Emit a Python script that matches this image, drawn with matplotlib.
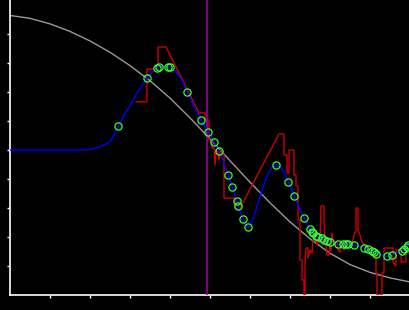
import matplotlib
matplotlib.use("Agg")
import matplotlib.pyplot as plt

# ── Data ─────────────────────────────────────────────────────────────
# smooth grey reference curve
prior_x = [-0.25, 0.0, 0.5, 1.0, 1.5, 2.0, 2.5, 3.0, 3.5, 4.0, 4.5, 5.0, 5.5,
           6.0, 6.5, 7.0, 7.5, 8.0, 8.5, 9.0, 9.5, 10.0]
prior_y = [9.67, 9.64, 9.54, 9.35, 9.09, 8.76, 8.37, 7.91, 7.39, 6.79, 6.11,
           5.38, 4.63, 3.89, 3.18, 2.52, 1.94, 1.44, 1.05, 0.78, 0.59, 0.45]

# blue fitted curve
fit_x = [0.0, 1.75, 2.0, 2.25, 2.375, 2.5, 2.6, 2.71, 2.85, 3.0, 3.2, 3.42,
         3.55, 3.67, 3.83, 4.0, 4.1, 4.2, 4.3, 4.43, 4.6, 4.78, 4.96, 5.1,
         5.23, 5.35, 5.46, 5.56, 5.68, 5.71, 5.76, 5.83, 5.89, 5.94, 6.0,
         6.08, 6.17, 6.29, 6.42, 6.54, 6.66, 6.75, 6.85, 6.96, 7.11, 7.23,
         7.36, 7.5, 7.54, 7.58, 7.64, 7.71, 7.79, 7.86, 7.93, 8.01, 8.21, 8.33,
         8.39, 8.44, 8.6, 8.86, 8.95, 9.04, 9.09, 9.15, 9.43, 9.56, 9.81, 9.85,
         9.92, 9.96, 10.0]
fit_y = [5.0, 5.0, 5.02, 5.11, 5.19, 5.29, 5.52, 5.82, 6.21, 6.52, 7.03, 7.47,
         7.69, 7.82, 7.89, 7.86, 7.78, 7.62, 7.40, 7.0, 6.52, 6.02, 5.63, 5.27,
         4.96, 4.55, 4.13, 3.71, 3.19, 3.07, 2.84, 2.61, 2.47, 2.35, 2.36,
         2.62, 3.03, 3.56, 4.08, 4.39, 4.47, 4.43, 4.24, 3.89, 3.40, 3.0,
         2.64, 2.27, 2.18, 2.13, 2.04, 1.99, 1.95, 1.88, 1.87, 1.82, 1.75, 1.75,
         1.75, 1.75, 1.71, 1.63, 1.59, 1.53, 1.47, 1.43, 1.33, 1.38, 1.53, 1.59,
         1.67, 1.72, 1.78]

# green observation markers
obs_x = [2.71, 3.42, 3.67, 3.73, 3.96, 4.01, 4.43, 4.78, 4.96, 5.1, 5.23, 5.46,
         5.56, 5.68, 5.71, 5.83, 5.94, 6.66, 6.96, 7.11, 7.36, 7.5, 7.54, 7.58,
         7.64, 7.71, 7.79, 7.86, 7.93, 8.01, 8.21, 8.33, 8.39, 8.44, 8.6, 8.86,
         8.95, 9.04, 9.09, 9.15, 9.43, 9.56, 9.81, 9.85, 9.92, 9.96]
obs_y = [5.82, 7.47, 7.82, 7.86, 7.87, 7.86, 7.0, 6.02, 5.63, 5.27, 4.96, 4.13,
         3.71, 3.24, 3.07, 2.61, 2.36, 4.47, 3.89, 3.40, 2.64, 2.27, 2.18, 2.13,
         2.04, 1.99, 1.95, 1.88, 1.87, 1.82, 1.75, 1.75, 1.75, 1.75, 1.71, 1.63,
         1.59, 1.53, 1.47, 1.43, 1.33, 1.38, 1.53, 1.59, 1.67, 1.72]

# red raw trace
raw_x = [3.15, 3.425, 3.425, 3.7, 3.7, 3.9, 4.725, 4.875, 4.875, 4.975, 4.975,
         5.05, 5.05, 5.1, 5.125, 5.15, 5.2, 5.225, 5.25, 5.275, 5.3, 5.35, 5.35,
         5.625, 5.625, 5.725, 6.725, 6.85, 6.85, 6.925, 6.925, 6.975, 6.975,
         7.1, 7.1, 7.15, 7.15, 7.2, 7.2, 7.25, 7.25, 7.3, 7.3, 7.35, 7.35,
         7.375, 7.375, 7.4, 7.45, 7.45, 7.5, 7.55, 7.575, 7.65, 7.675, 7.725,
         7.75, 7.775, 7.85, 7.85, 7.875, 7.9, 7.925, 7.975, 8.0, 8.025, 8.05,
         8.075, 8.125, 8.175, 8.2, 8.25, 8.275, 8.325, 8.35, 8.4, 8.45, 8.55,
         8.575, 8.625, 8.65, 8.65, 8.7, 8.7, 8.75, 8.8, 8.9, 8.95, 9.0, 9.05,
         9.15, 9.15, 9.175, 9.175, 9.3, 9.3, 9.35, 9.35, 9.575, 9.575, 9.65,
         9.65, 9.775, 9.775, 9.9, 9.9, 10.0]
raw_y = [6.66, 6.66, 7.79, 7.79, 8.55, 8.55, 6.28, 6.28, 6.03, 6.03, 5.34,
         5.34, 5.07, 5.07, 4.48, 5.0, 4.93, 4.66, 5.0, 4.76, 4.93, 4.83, 3.34,
         3.34, 3.0, 2.93, 5.55, 5.55, 4.83, 4.83, 4.21, 4.21, 5.0,
         5.0, 4.14, 4.14, 3.76, 3.76, 2.59, 2.59, 1.21, 1.21, 0.52, 0.52, 0.0,
         0.0, 1.03, 1.62, 1.62, 1.28, 1.55, 1.45, 1.9, 1.9, 1.72, 1.97,
         1.79, 3.07, 3.07, 2.59, 1.9, 1.69, 1.38, 1.38, 1.72, 1.55, 2.14,
         1.83, 1.72, 1.83, 1.55, 1.48, 1.69, 1.72, 1.55, 1.62, 1.76, 1.72,
         1.9, 2.17, 2.17, 3.0, 3.0, 2.24, 2.07, 1.83, 1.66, 1.55, 1.62, 1.48,
         1.38, 0.76, 0.76, 0.0, 0.0, 0.76, 0.76, 1.62, 1.62, 1.14, 1.0,
         1.55, 1.55, 1.14, 1.14, 1.45, 1.45]

marker_x = 4.93  # purple vertical line

COLORS = {
    "prior": "#9a9a9a",
    "raw":   "#cc0000",
    "fit":   "#0000ff",
    "obs":   "#33ff33",
    "mark":  "#9900a0",
    "axis":  "#ffffff",
}

# ── Figure ───────────────────────────────────────────────────────────
fig = plt.figure(figsize=(4.1, 3.1), dpi=100, facecolor="black")
ax = fig.add_axes([10 / 410, 15 / 310, 400 / 410, 295 / 310])
ax.set_facecolor("black")

ax.plot(prior_x, prior_y, color=COLORS["prior"], lw=1.0, zorder=2)
ax.plot(raw_x, raw_y, color=COLORS["raw"], lw=1.0, zorder=3)
ax.axvline(marker_x, color=COLORS["mark"], lw=1.2, zorder=4)
ax.plot(fit_x, fit_y, color=COLORS["fit"], lw=1.0, zorder=5)
ax.plot(obs_x, obs_y, "o", ms=5.2, mfc="none", mec=COLORS["obs"], mew=0.9,
        zorder=6)

ax.set_xlim(0, 10)
ax.set_ylim(0, 295 / 29)
ax.set_xticks(range(1, 10))
ax.set_yticks(range(1, 10))
ax.set_xticklabels([])
ax.set_yticklabels([])
ax.tick_params(colors=COLORS["axis"], length=2.5, width=1.0, direction="out")
for side in ["top", "right"]:
    ax.spines[side].set_visible(False)
for side in ["left", "bottom"]:
    ax.spines[side].set_color(COLORS["axis"])
    ax.spines[side].set_linewidth(1.2)

fig.savefig("out.png", dpi=100, facecolor="black")
